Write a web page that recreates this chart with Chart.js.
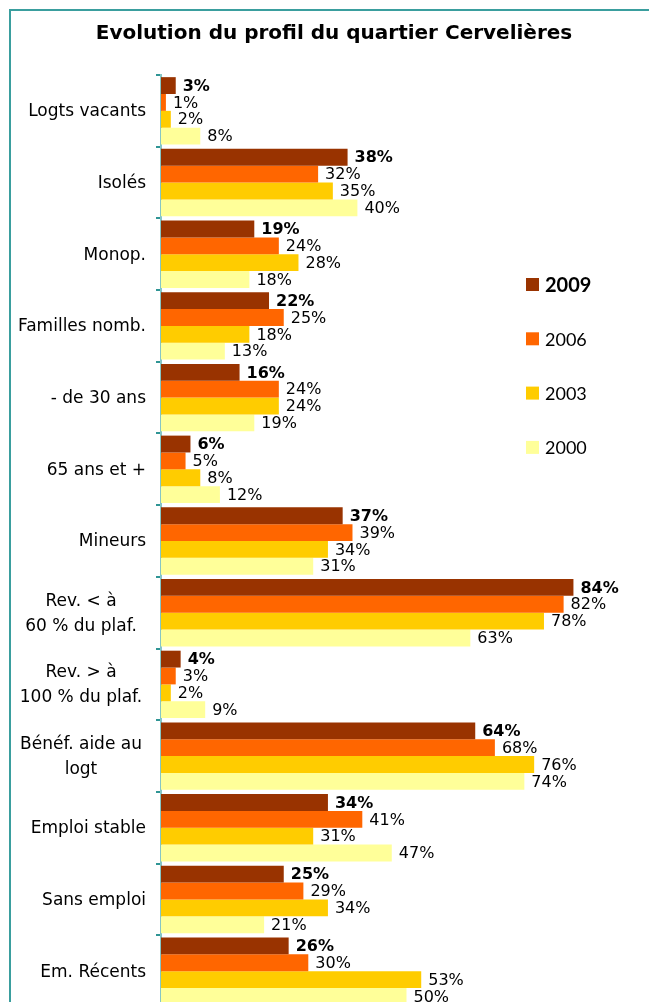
<!DOCTYPE html>
<html>
<head>
<meta charset="utf-8">
<script src="https://cdn.jsdelivr.net/npm/chart.js@4/dist/chart.umd.min.js"></script>
<style>
  html, body { margin: 0; padding: 0; background: #fff; overflow: hidden; width: 649px; height: 1002px; }
  #frame { position: absolute; left: 9px; top: 9px; width: 800px; height: 1100px;
           border-left: 2px solid #3a9e9e; border-top: 2px solid #3a9e9e; box-sizing: border-box; }
  #wrap { position: absolute; left: 0; top: 0; }
</style>
</head>
<body>
<div id="frame"></div>
<div id="wrap"><canvas id="c" width="652" height="1019"></canvas></div>
<script>
const title = 'Evolution du profil du quartier Cervelières';
const categories = [
  ['Logts vacants'],
  ['Isolés'],
  ['Monop.'],
  ['Familles nomb.'],
  ['- de 30 ans'],
  ['65 ans et +'],
  ['Mineurs'],
  ['Rev. < à', '60 % du plaf.'],
  ['Rev. > à', '100 % du plaf.'],
  ['Bénéf. aide au', 'logt'],
  ['Emploi stable'],
  ['Sans emploi'],
  ['Em. Récents']
];
const seriesNames = ['2009', '2006', '2003', '2000'];
const v2009 = [3, 38, 19, 22, 16, 6, 37, 84, 4, 64, 34, 25, 26];
const v2006 = [1, 32, 24, 25, 24, 5, 39, 82, 3, 68, 41, 29, 30];
const v2003 = [2, 35, 28, 18, 24, 8, 34, 78, 2, 76, 31, 34, 53];
const v2000 = [8, 40, 18, 13, 19, 12, 31, 63, 9, 74, 47, 21, 50];
const colors = ['#993300', '#FF6600', '#FFCC00', '#FFFF99'];

const FONT = '"DejaVu Sans", sans-serif';

const titlePlugin = {
  id: 'titleP',
  afterDraw(chart) {
    const ctx = chart.ctx;
    ctx.save();
    ctx.font = 'bold 20px ' + FONT;
    ctx.fillStyle = '#000';
    ctx.textAlign = 'center';
    ctx.textBaseline = 'alphabetic';
    ctx.fillText(title, 334, 39);
    ctx.restore();
  }
};

const yLabelPlugin = {
  id: 'yLabels',
  afterDraw(chart) {
    const ctx = chart.ctx;
    const y = chart.scales.y;
    ctx.save();
    ctx.font = '17px ' + FONT;
    ctx.fillStyle = '#000';
    ctx.textBaseline = 'middle';
    categories.forEach((lines, i) => {
      const cy = y.getPixelForValue(i) + 1;
      const lh = 25;
      const y0 = cy - (lines.length - 1) * lh / 2;
      if (lines.length === 1) {
        ctx.textAlign = 'right';
        ctx.fillText(lines[0], 146, y0);
      } else {
        ctx.textAlign = 'center';
        lines.forEach((l, k) => ctx.fillText(l, 81, y0 + k * lh));
      }
    });
    ctx.restore();
  }
};

const valuePlugin = {
  id: 'values',
  afterDatasetsDraw(chart) {
    const ctx = chart.ctx;
    ctx.save();
    ctx.fillStyle = '#000';
    ctx.textAlign = 'left';
    ctx.textBaseline = 'middle';
    chart.data.datasets.forEach((ds, di) => {
      const meta = chart.getDatasetMeta(di);
      ctx.font = (di === 0 ? 'bold ' : '') + '16px ' + FONT;
      meta.data.forEach((el, i) => {
        ctx.fillText(ds.data[i] + '%', el.x + 7, el.y + 1);
      });
    });
    ctx.restore();
  }
};

const legendPlugin = {
  id: 'legendP',
  afterDraw(chart) {
    const ctx = chart.ctx;
    ctx.save();
    ctx.textAlign = 'left';
    ctx.textBaseline = 'middle';
    chart.data.datasets.forEach((ds, i) => {
      const cy = 284.5 + i * 54.3;
      ctx.fillStyle = ds.backgroundColor;
      ctx.fillRect(526, cy - 6.5, 13, 13);
      ctx.fillStyle = '#000';
      ctx.font = (i === 0 ? 'bold 20px ' : '18px ') + 'Lato, sans-serif';
      ctx.fillText(ds.label, 545, cy + 1);
    });
    ctx.restore();
  }
};

const seriesValues = [v2009, v2006, v2003, v2000];
new Chart(document.getElementById('c'), {
  type: 'bar',
  data: {
    labels: categories.map(c => c.join(' ')),
    datasets: seriesNames.map((n, i) => ({
      label: n,
      data: seriesValues[i],
      backgroundColor: colors[i],
      borderWidth: 0,
      categoryPercentage: 0.94,
      barPercentage: 1.0
    }))
  },
  options: {
    indexAxis: 'y',
    responsive: false,
    animation: false,
    devicePixelRatio: 1,
    layout: { padding: { top: 75, left: 0, right: 0, bottom: 0 } },
    plugins: { legend: { display: false }, title: { display: false }, tooltip: { enabled: false } },
    scales: {
      x: { display: false, min: 0, max: 100 },
      y: {
        afterFit(scale) { scale.width = 161; },
        grid: { offset: true, drawOnChartArea: false, drawTicks: true, tickLength: 5, color: '#2f9595', lineWidth: 2 },
        border: { display: true, color: '#86c6c6', width: 2 },
        ticks: { autoSkip: false, color: 'rgba(0,0,0,0)', font: { size: 15 } }
      }
    }
  },
  plugins: [titlePlugin, yLabelPlugin, valuePlugin, legendPlugin]
});
</script>
</body>
</html>
